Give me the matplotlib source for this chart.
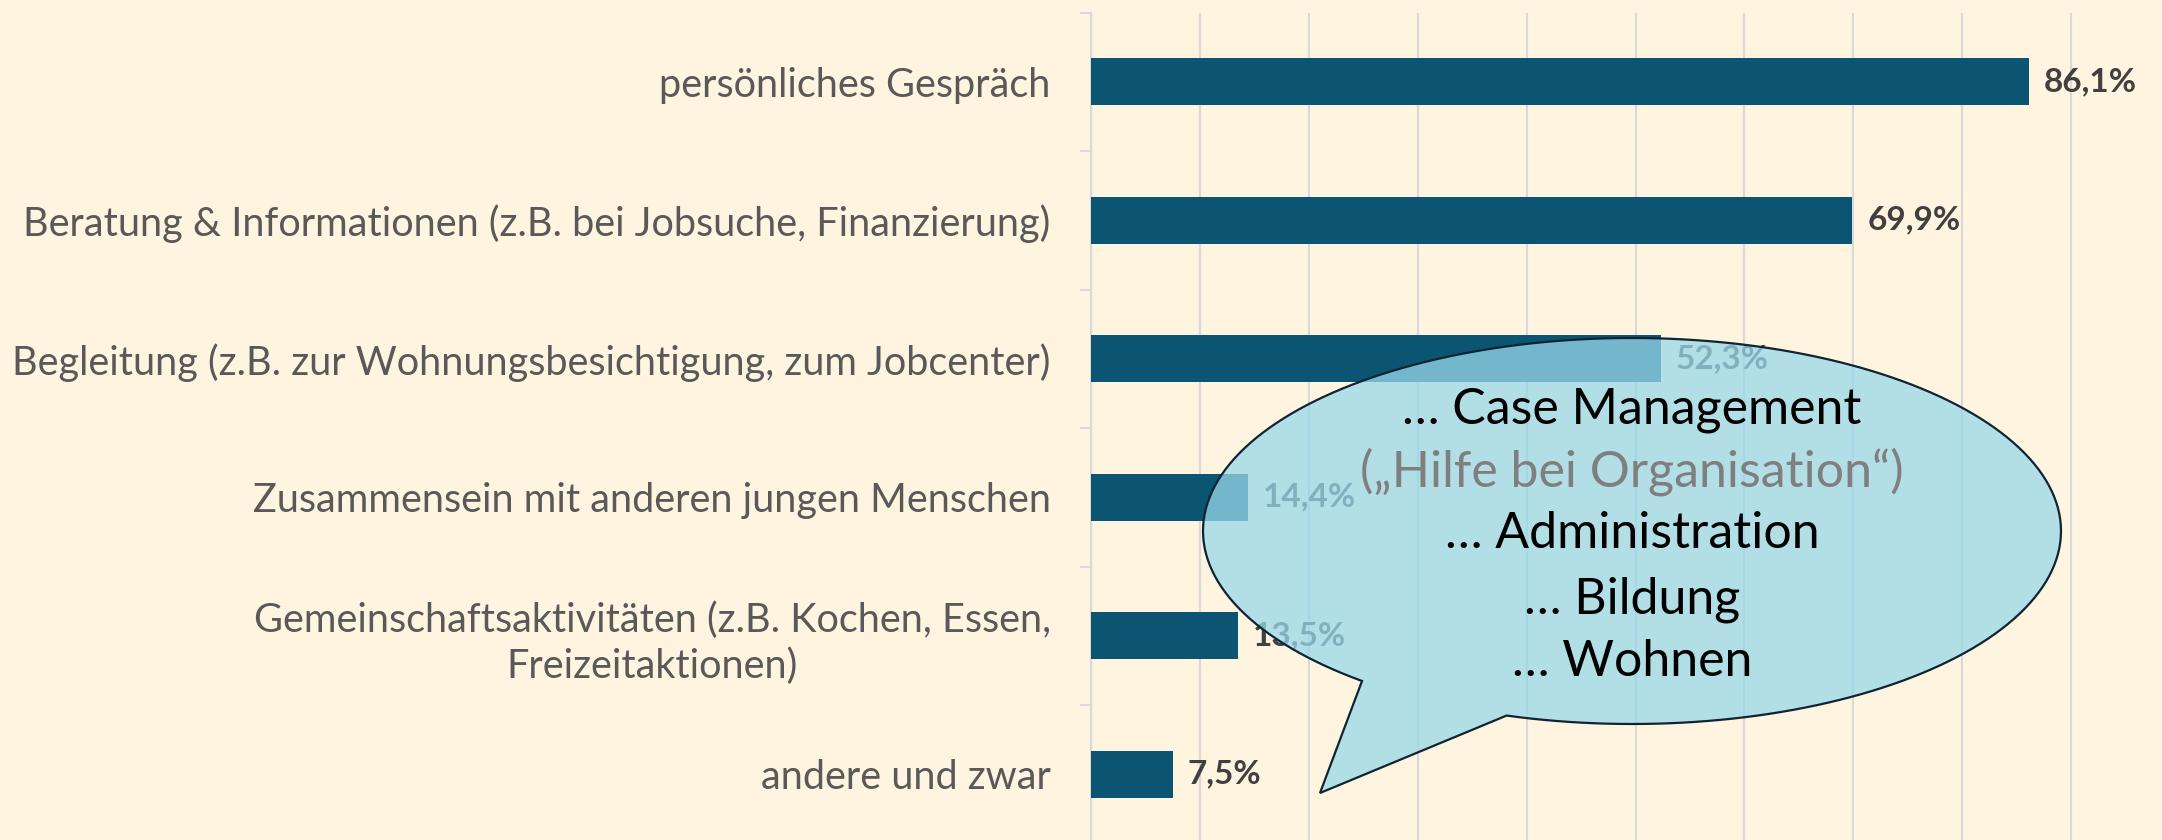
import numpy as np
import matplotlib.pyplot as plt
from matplotlib.path import Path
from matplotlib.patches import PathPatch

# data
categories = ["persönliches Gespräch",
              "Beratung & Informationen (z.B. bei Jobsuche, Finanzierung)",
              "Begleitung (z.B. zur Wohnungsbesichtigung, zum Jobcenter)",
              "Zusammensein mit anderen jungen Menschen",
              "Gemeinschaftsaktivitäten (z.B. Kochen, Essen,\nFreizeitaktionen)",
              "andere und zwar"]
values = [86.1, 69.9, 52.3, 14.4, 13.5, 7.5]
bubble_lines = ["… Case Management", "(„Hilfe bei Organisation“)",
                "… Administration", "… Bildung", "… Wohnen"]

W, H = 2162, 840
bg = "#FFF4E0"
barcol = "#0B5573"
grid = "#D9D9D9"

plt.rcParams['font.family'] = ['Lato', 'DejaVu Sans']
fig = plt.figure(figsize=(W/100, H/100), dpi=100, facecolor=bg)
ax = fig.add_axes([1091/W, 1 - 843.5/H, 1089/W, 831/H])
ax.set_facecolor(bg)

y = np.arange(len(categories))
ax.barh(y, values, height=0.34, color=barcol, zorder=3)
for yi, v in zip(y, values):
    ax.text(v + 1.4, yi, f"{v:.1f}%".replace(".", ","), va="center", ha="left",
            fontsize=24, fontweight="bold", color="#404040", zorder=4)

ax.set_xlim(0, 100)
ax.set_ylim(len(categories) - 0.5, -0.5)
ax.set_xticks(np.arange(0, 101, 10))
ax.xaxis.grid(True, color=grid, lw=1.5, zorder=0)
ax.tick_params(axis="x", length=0, labelbottom=False)
ax.set_yticks(y)
ax.set_yticklabels(categories, fontsize=28.5, color="#595959",
                   multialignment="center", linespacing=1.25)
ax.set_yticks(np.arange(-0.5, len(categories)), minor=True)
ax.tick_params(axis="y", which="major", length=0, pad=29)
ax.tick_params(axis="y", which="minor", length=8, width=1.5, color=grid)
for s in ["top", "right", "bottom"]:
    ax.spines[s].set_visible(False)
ax.spines["left"].set_color(grid)
ax.spines["left"].set_linewidth(1.5)

# speech bubble (pixel coords of image, y down)
cx, cy, a, b = 1632, 531, 429, 193
th = np.radians(np.linspace(253, 591, 200))
px = cx + a*np.cos(th)
py = cy - b*np.sin(th)
px = np.append(px, [1320, px[0]])
py = np.append(py, [793, py[0]])
verts = np.column_stack([px/W, 1 - py/H])
codes = [Path.MOVETO] + [Path.LINETO]*(len(verts) - 2) + [Path.CLOSEPOLY]
bubble = PathPatch(Path(verts, codes), facecolor="#98D7E9", alpha=0.75,
                   edgecolor="none", transform=fig.transFigure, zorder=5, clip_on=False)
edge = PathPatch(Path(verts, codes), facecolor="none", edgecolor="#0F2433", lw=1.6,
                 transform=fig.transFigure, zorder=5, clip_on=False)
ax.add_patch(bubble)
ax.add_patch(edge)

line_y = [410, 472, 534, 600, 662]
line_c = ["black", "#7F7F7F", "black", "black", "black"]
for t, ly, c in zip(bubble_lines, line_y, line_c):
    fig.text(cx/W, 1 - ly/H, t, ha="center", va="center", fontsize=36, color=c, zorder=6)

fig.savefig("out.png", dpi=100, facecolor=bg)
